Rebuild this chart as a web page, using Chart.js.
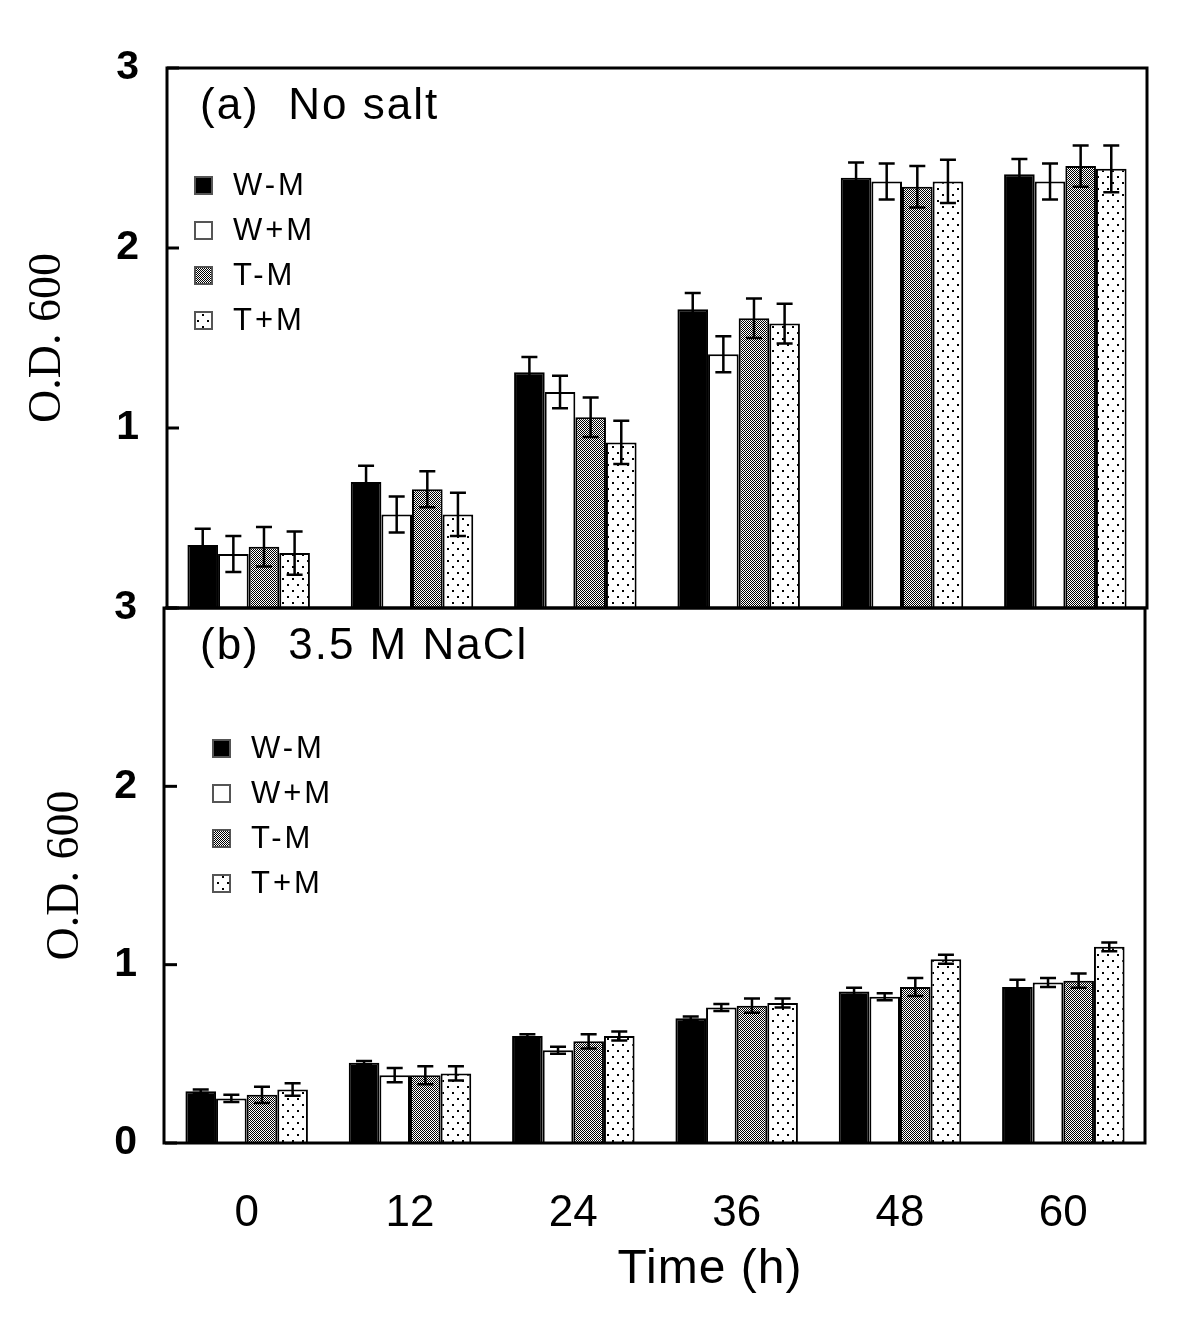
<!DOCTYPE html>
<html>
<head>
<meta charset="utf-8">
<script src="https://cdn.jsdelivr.net/npm/chart.js@4.4.1/dist/chart.umd.min.js"></script>
<style>
  body { margin: 0; background: #fff; }
  #wrap { position: relative; width: 1200px; height: 1340px; }
  #chartA { position: absolute; left: 0; top: 0; }
  #chartB { position: absolute; left: 0; top: 550px; }
</style>
</head>
<body>
<div id="wrap">
  <canvas id="chartA" width="1200" height="666"></canvas>
  <canvas id="chartB" width="1200" height="790"></canvas>
</div>
<script>
// time points (h)
const timeLabels = ['0', '12', '24', '36', '48', '60'];
const seriesNames = ['W-M', 'W+M', 'T-M', 'T+M'];
const yTicks = [0, 1, 2, 3];

// (a) no salt, O.D. 600
const noSaltWM = [0.35, 0.70, 1.31, 1.66, 2.39, 2.41];
const noSaltWPM = [0.30, 0.52, 1.20, 1.41, 2.37, 2.37];
const noSaltTM = [0.34, 0.66, 1.06, 1.61, 2.34, 2.455];
const noSaltTPM = [0.305, 0.52, 0.92, 1.58, 2.37, 2.44];
const noSaltWMErr = [0.09, 0.09, 0.085, 0.09, 0.085, 0.085];
const noSaltWPMErr = [0.10, 0.10, 0.09, 0.10, 0.10, 0.10];
const noSaltTMErr = [0.11, 0.10, 0.11, 0.11, 0.115, 0.115];
const noSaltTPMErr = [0.12, 0.12, 0.12, 0.11, 0.12, 0.13];

// (b) 3.5 M NaCl, O.D. 600
const naclWM = [0.29, 0.45, 0.60, 0.70, 0.85, 0.875];
const naclWPM = [0.25, 0.38, 0.52, 0.76, 0.82, 0.90];
const naclTM = [0.27, 0.38, 0.57, 0.77, 0.875, 0.91];
const naclTPM = [0.30, 0.39, 0.60, 0.785, 1.03, 1.10];
const naclWMErr = [0.01, 0.01, 0.01, 0.01, 0.02, 0.04];
const naclWPMErr = [0.02, 0.04, 0.02, 0.02, 0.02, 0.025];
const naclTMErr = [0.045, 0.05, 0.04, 0.04, 0.05, 0.04];
const naclTPMErr = [0.035, 0.04, 0.025, 0.025, 0.025, 0.025];

function checkerPattern() {
  const c = document.createElement('canvas');
  c.width = 2; c.height = 2;
  const g = c.getContext('2d');
  g.fillStyle = '#fff'; g.fillRect(0, 0, 2, 2);
  g.fillStyle = '#000'; g.fillRect(0, 0, 1, 1); g.fillRect(1, 1, 1, 1);
  return g.createPattern(c, 'repeat');
}

function dotPattern() {
  const c = document.createElement('canvas');
  c.width = 10; c.height = 12;
  const g = c.getContext('2d');
  g.fillStyle = '#fff'; g.fillRect(0, 0, 10, 12);
  g.fillStyle = '#000'; g.fillRect(2, 2, 2, 2); g.fillRect(7, 8, 2, 2);
  return g.createPattern(c, 'repeat');
}

const fills = ['#000', '#fff', checkerPattern(), dotPattern()];

function makeDatasets(values, errors) {
  return values.map((v, i) => ({
    label: seriesNames[i],
    data: v,
    errors: errors[i],
    backgroundColor: fills[i],
    borderColor: '#000',
    borderWidth: 2,
    categoryPercentage: 0.75,
    barPercentage: 1.0
  }));
}

// error bars, inward ticks, frame, panel title and legend
const panelPlugin = {
  id: 'panel',
  afterDatasetsDraw(chart, args, opts) {
    const ctx = chart.ctx;
    const y = chart.scales.y;
    const area = chart.chartArea;
    ctx.save();
    ctx.strokeStyle = '#000';
    ctx.lineWidth = 2.5;
    chart.data.datasets.forEach((ds, i) => {
      const meta = chart.getDatasetMeta(i);
      meta.data.forEach((bar, j) => {
        const v = ds.data[j], e = ds.errors[j];
        const yTop = y.getPixelForValue(v + e);
        const yBot = y.getPixelForValue(v - e);
        ctx.beginPath();
        ctx.moveTo(bar.x, yTop); ctx.lineTo(bar.x, yBot);
        ctx.moveTo(bar.x - 8, yTop); ctx.lineTo(bar.x + 8, yTop);
        ctx.moveTo(bar.x - 8, yBot); ctx.lineTo(bar.x + 8, yBot);
        ctx.stroke();
      });
    });

    // inward y ticks
    ctx.lineWidth = 3;
    yTicks.forEach(t => {
      const py = y.getPixelForValue(t);
      ctx.beginPath();
      ctx.moveTo(area.left, py); ctx.lineTo(area.left + 12, py);
      ctx.stroke();
    });

    // frame
    ctx.lineWidth = 3;
    ctx.strokeRect(opts.frameLeft, area.top, area.right - opts.frameLeft, area.bottom - area.top);

    // panel title
    ctx.fillStyle = '#000';
    ctx.font = '44px "Liberation Sans", Arial, sans-serif';
    ctx.letterSpacing = '2px';
    ctx.textBaseline = 'middle';
    ctx.textAlign = 'left';
    ctx.fillText(opts.title, area.left + opts.titleDx, area.top + opts.titleDy);

    // legend
    ctx.font = '31px "Liberation Sans", Arial, sans-serif';
    ctx.letterSpacing = '3px';
    chart.data.datasets.forEach((ds, i) => {
      const ly = area.top + opts.legendDy + i * 45;
      const lx = area.left + opts.legendDx;
      ctx.fillStyle = ds.backgroundColor;
      ctx.fillRect(lx, ly - 8, 17, 17);
      ctx.lineWidth = 2;
      ctx.strokeStyle = '#555';
      ctx.strokeRect(lx, ly - 8, 17, 17);
      ctx.fillStyle = '#000';
      ctx.fillText(ds.label, lx + 38, ly + 1);
    });

    // x-axis title for the lower panel
    if (opts.xTitle) {
      ctx.font = '48px "Liberation Sans", Arial, sans-serif';
      ctx.letterSpacing = '1px';
      ctx.textAlign = 'center';
      ctx.fillText(opts.xTitle, opts.xTitleX, area.bottom + opts.xTitleDy);
    }
    ctx.restore();
  }
};

function makeChart(canvasId, datasets, cfg) {
  return new Chart(document.getElementById(canvasId), {
    type: 'bar',
    data: { labels: timeLabels, datasets: datasets },
    plugins: [panelPlugin],
    options: {
      responsive: false,
      animation: false,
      devicePixelRatio: 1,
      layout: { padding: cfg.padding },
      plugins: {
        legend: { display: false },
        tooltip: { enabled: false },
        panel: cfg.panel
      },
      scales: {
        x: {
          display: cfg.showX,
          grid: { display: false, drawTicks: false },
          border: { display: false },
          ticks: {
            padding: 44,
            color: '#000',
            font: { family: '"Liberation Sans", Arial, sans-serif', size: 44 }
          },
          afterFit: s => { s.height = cfg.xHeight; }
        },
        y: {
          min: 0,
          max: 3,
          grid: { display: false, drawTicks: false },
          border: { display: false },
          ticks: {
            stepSize: 1,
            padding: 28,
            color: '#000',
            font: { family: '"Liberation Sans", Arial, sans-serif', size: 41, weight: 'bold' },
            callback: v => (cfg.hideZero && v === 0) ? '' : String(v)
          },
          title: {
            display: true,
            text: 'O.D. 600',
            color: '#000',
            padding: { top: cfg.titlePad, bottom: 0 },
            font: { family: '"Liberation Serif", "Times New Roman", serif', size: 46 }
          },
          afterFit: s => { s.width = cfg.yWidth; }
        }
      }
    }
  });
}

// upper panel: plot area 68..608 on the page
makeChart('chartA',
  makeDatasets([noSaltWM, noSaltWPM, noSaltTM, noSaltTPM],
               [noSaltWMErr, noSaltWPMErr, noSaltTMErr, noSaltTPMErr]),
  {
    padding: { left: 0, right: 53, top: 68, bottom: 58 },
    showX: false, xHeight: 0, yWidth: 167, hideZero: true, titlePad: 20,
    panel: { title: '(a)  No salt', titleDx: 33, titleDy: 39, legendDx: 28, legendDy: 117, frameLeft: 167 }
  });

// lower panel: plot area 608..1143 on the page
makeChart('chartB',
  makeDatasets([naclWM, naclWPM, naclTM, naclTPM],
               [naclWMErr, naclWPMErr, naclTMErr, naclTPMErr]),
  {
    padding: { left: 0, right: 55, top: 58, bottom: 0 },
    showX: true, xHeight: 197, yWidth: 165, hideZero: false, titlePad: 38,
    panel: { title: '(b)  3.5 M NaCl', titleDx: 35, titleDy: 39, legendDx: 48, legendDy: 140, frameLeft: 164,
             xTitle: 'Time (h)', xTitleX: 710, xTitleDy: 127 }
  });
</script>
</body>
</html>
